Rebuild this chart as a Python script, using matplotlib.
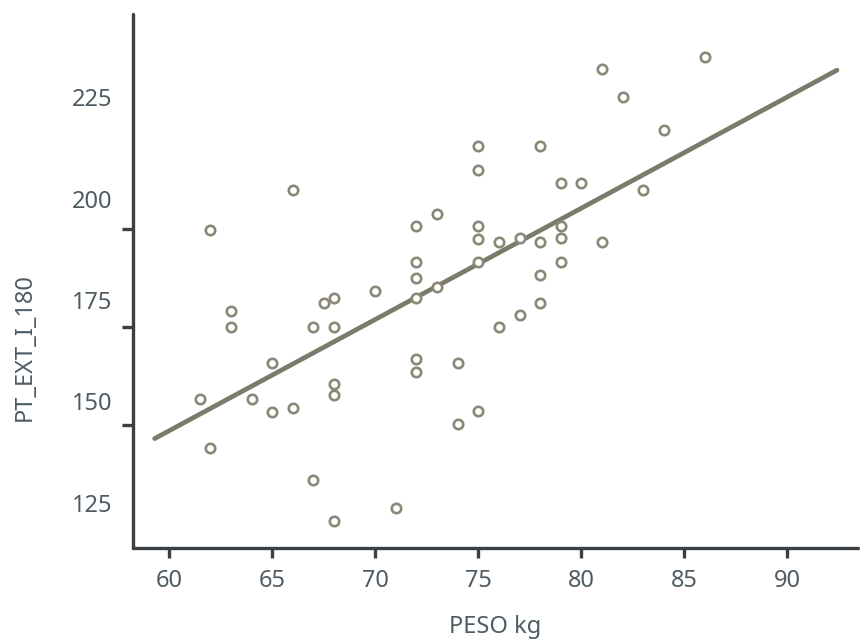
import numpy as np
import matplotlib
matplotlib.use("Agg")
import matplotlib.pyplot as plt

# data
peso_kg = [86, 81, 82, 84, 75, 78, 75, 79, 80, 66, 83, 73, 62, 72, 75, 79,
           75, 76, 77, 78, 79, 81, 72, 75, 79, 72, 78, 73, 70, 67.5, 68, 72,
           78, 63, 77, 63, 67, 68, 76, 65, 72, 74, 72, 68, 68, 61.5, 64, 66,
           65, 75, 74, 62, 67, 71, 68]
pt_ext = [235, 232, 225, 217, 213, 213, 207.2, 204, 204, 202.2, 202.2, 196.2,
          192.2, 193.3, 193.3, 193.3, 190.1, 189.3, 190.3, 189.3, 190.2, 189.3,
          184.3, 184.4, 184.3, 180.4, 181.2, 178.3, 177.3, 174.2, 175.4, 175.4,
          174.3, 172.3, 171.3, 168.4, 168.4, 168.4, 168.3, 159.4, 160.4, 159.4,
          157.3, 154.4, 151.5, 150.5, 150.5, 148.4, 147.4, 147.5, 144.5, 138.5,
          130.6, 123.7, 120.5]

fit_range = [59.3, 92.4]
x_ticks = [60, 65, 70, 75, 80, 85, 90]
y_ticks = [125, 150, 175, 200, 225]
# stray tick marks seen on the y axis of the reference
y_marks = [144.1, 168.3, 192.5]

TEXT = "#4f5b63"
AXIS = "#3b4045"
POINT = "#8b8878"
LINE = "#7c7a6b"

plt.rcParams["font.family"] = ["Noto Sans", "DejaVu Sans"]

fig = plt.figure(figsize=(8.6, 6.41), dpi=100)
ax = fig.add_axes([133 / 860, 1 - 548 / 641, 725 / 860, 534 / 641])

# regression line
coef = np.polyfit(peso_kg, pt_ext, 1)
xs = np.array(fit_range)
ax.plot(xs, np.polyval(coef, xs), color=LINE, lw=3.4, solid_capstyle="round", zorder=2)

ax.scatter(peso_kg, pt_ext, s=46, facecolors="white", edgecolors=POINT,
           linewidths=1.9, zorder=3)

ax.set_xlim(58.25, 93.42)
ax.set_ylim(113.8, 245.6)

ax.set_xticks(x_ticks)
ax.set_yticks(y_ticks)
ax.set_yticks(y_marks, minor=True)

for side in ["top", "right"]:
    ax.spines[side].set_visible(False)
for side in ["left", "bottom"]:
    ax.spines[side].set_color(AXIS)
    ax.spines[side].set_linewidth(2.4)
    ax.spines[side].set_capstyle("round")

ax.tick_params(axis="x", which="major", length=7, width=2.4, color=AXIS,
               labelcolor=TEXT, labelsize=17, pad=8)
ax.tick_params(axis="y", which="both", length=8, width=2.4, color=AXIS,
               labelcolor=TEXT, labelsize=17, pad=7)
# the reference shows labels 150/175/200 without their own tick marks
for t in ax.yaxis.get_major_ticks():
    if t.get_loc() not in (125, 225):
        t.tick1line.set_visible(False)

ax.set_xlabel("PESO kg", fontsize=17, color=TEXT, va="center")
ax.xaxis.set_label_coords(0.5, (548 - 627) / 534)
ax.set_ylabel("PT_EXT_I_180", fontsize=17, color=TEXT, va="center")
ax.yaxis.set_label_coords((25 - 133) / 725, (548 - 347) / 534)

fig.savefig("out.png", dpi=100)
